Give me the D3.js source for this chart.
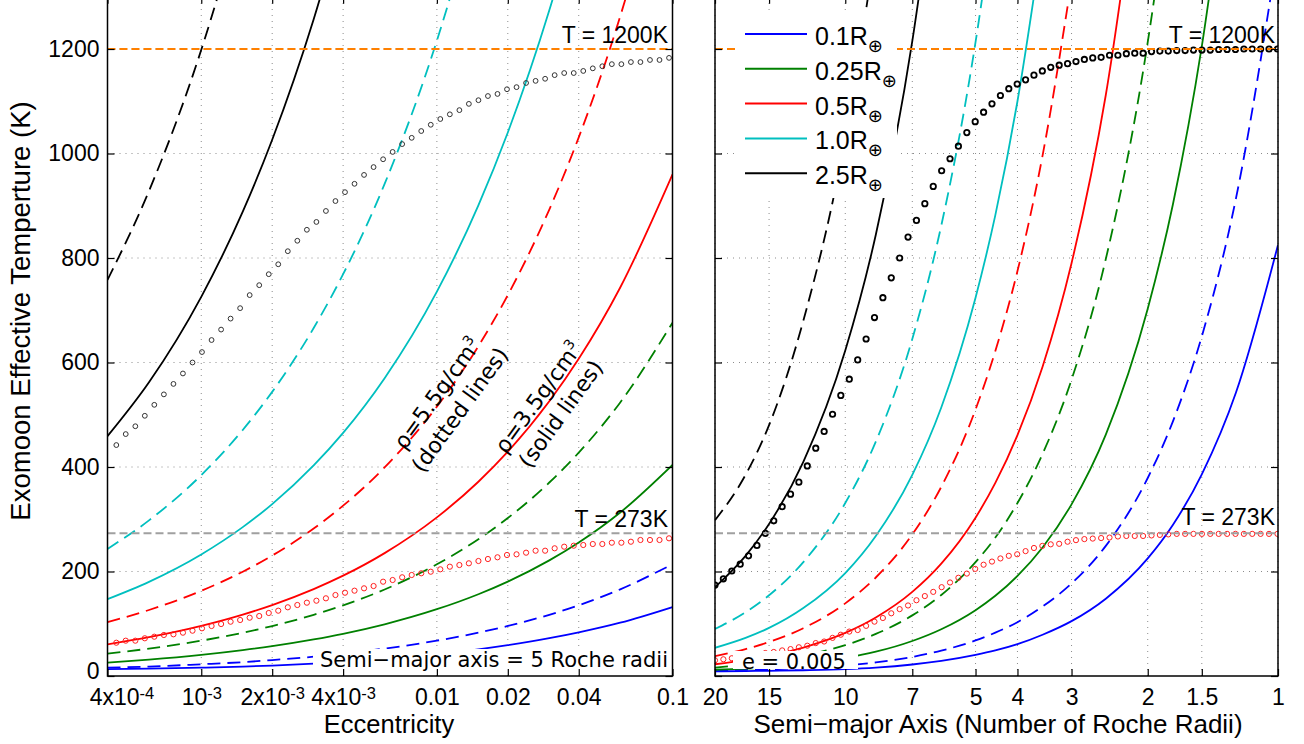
<!DOCTYPE html>
<html>
<head>
<meta charset="utf-8">
<script src="https://cdn.jsdelivr.net/npm/d3@7"></script>
<style>
body { margin: 0; background: #fff; }
svg { display: block; font-family: "Liberation Sans", Arial, sans-serif; }
</style>
</head>
<body>
<div id="chart"></div>
<script>
var width = 1304;
var height = 744;

// left panel: temperature vs eccentricity (a = 5 Roche radii)
var eccGrid = [4e-4, 6e-4, 1e-3, 1.5e-3, 2e-3, 3e-3, 4e-3, 6e-3, 0.01, 0.015, 0.02, 0.03, 0.04, 0.06, 0.1];
var blueSolidL = [13, 14, 16, 18, 20, 23.5, 26.5, 32.5, 41.7, 51, 59, 72.3, 83.5, 102, 132];
var blueDashedL = [16, 18, 22.5, 26.5, 30.5, 37, 43, 52.4, 67.7, 82.9, 95.7, 117.2, 135.3, 165.8, 214];
var greenSolidL = [25.6, 31.3, 40.4, 49.5, 57.1, 70, 80.8, 99, 127.8, 156.5, 180.7, 221.3, 255.5, 312.9, 404];
var greenDashedL = [42.8, 52.4, 67.6, 82.8, 95.6, 117.1, 135.2, 165.6, 213.8, 261.8, 302.3, 370.3, 427.5, 523.6, 676];
var redSolidL = [60.7, 74.4, 96, 117.6, 135.8, 166.3, 192, 235.2, 303.6, 371.8, 429.3, 525.8, 607.2, 743.6, 960];
var redDashedL = [103.1, 126.3, 163, 199.6, 230.5, 282.3, 326, 399.3, 515.5, 631.3, 729, 892.8, 1030.9, 1262.6, 1630];
var cyanSolidL = [147.1, 180.2, 232.6, 284.9, 328.9, 402.9, 465.2, 569.8, 735.5, 900.9, 1040.2, 1274, 1471.1];
var cyanDashedL = [243.2, 297.8, 384.5, 470.9, 543.8, 666, 769, 941.8, 1215.9, 1489.2];
var blackSolidL = [459, 562.1, 725.7, 888.8, 1026.3, 1257, 1451.4];
var blackDashedL = [758, 928.3, 1198.4, 1467.7];

var eccCircles = [4.36e-4, 4.78e-4, 5.25e-4, 5.76e-4, 6.32e-4, 6.94e-4, 7.62e-4, 8.36e-4, 9.18e-4, 1.007e-3,
  1.106e-3, 1.214e-3, 1.332e-3, 1.462e-3, 1.605e-3, 1.762e-3, 1.934e-3, 2.122e-3, 2.330e-3, 2.557e-3,
  2.807e-3, 3.081e-3, 3.381e-3, 3.711e-3, 4.074e-3, 4.471e-3, 4.908e-3, 5.387e-3, 5.913e-3, 6.490e-3,
  7.123e-3, 7.819e-3, 8.582e-3, 9.420e-3, 0.01034, 0.01135, 0.01246, 0.01367, 0.01501, 0.01647,
  0.01808, 0.01984, 0.02178, 0.02391, 0.02624, 0.02880, 0.03161, 0.03470, 0.03809, 0.04181,
  0.04589, 0.05037, 0.05528, 0.06068, 0.06660, 0.07310, 0.08024, 0.08807, 0.09667];
var blackCirclesL = [442, 463, 478, 498, 519, 539, 559, 579, 600, 620,
  643, 663, 684, 704, 729, 748, 769, 788, 813, 833,
  854, 869, 890, 909, 926, 942, 959, 974, 989, 1003,
  1018, 1030, 1043, 1055, 1066, 1075, 1083, 1095, 1102, 1110,
  1114, 1123, 1127, 1135, 1139, 1143, 1150, 1154, 1154, 1158,
  1163, 1167, 1171, 1171, 1175, 1175, 1179, 1179, 1183];
var redCirclesL = [63.7, 67.6, 67.6, 72.2, 75.2, 78.5, 79.8, 82.9, 86.7, 91.3,
  95.7, 99.5, 103.9, 107.2, 111.6, 114.8, 120.6, 125, 131.5, 135.9,
  140.3, 144.1, 148.7, 155, 159.4, 163.3, 167.8, 172.2, 180.5, 183.7,
  188.9, 193.3, 196.6, 199.6, 204.2, 209.2, 212.4, 215.7, 220.1, 223.9,
  227.2, 231.6, 232.9, 236, 239.8, 239.8, 244.4, 247.5, 249.4, 250.7,
  252.6, 252.6, 255.1, 255.1, 257, 260.3, 260.3, 260.3, 263.5];

// right panel: temperature vs semi-major axis (e = 0.005)
var aGrid = [20, 17, 15, 12.5, 10, 8.5, 7, 6, 5, 4.5, 4, 3.5, 3, 2.5, 2, 1.75, 1.5, 1.25, 1];
var blueSolidR = [9, 9.5, 10, 11, 13, 16, 22, 29, 40.5, 49, 61, 79, 105, 148, 225, 289, 386, 543, 825];
var blueDashedR = [11, 12, 13, 15, 20, 26, 36.5, 48.5, 68, 83, 103, 133, 177, 249, 379, 487, 650, 915, 1390];
var greenSolidR = [12, 14, 17, 23, 34.5, 46.5, 67, 89.5, 126, 153.5, 191.5, 246, 328.5, 462, 703, 902, 1205, 1696];
var greenDashedR = [16, 22, 28, 39, 59, 80.5, 116, 155, 218, 265, 331, 425, 567, 798, 1213, 1558];
var redSolidR = [22.5, 30.5, 38.5, 54.5, 82.5, 112, 161, 215, 303, 369.5, 461, 592, 790, 1112, 1690];
var redDashedR = [38, 51.5, 65, 91.5, 139, 188.5, 271, 362, 510, 622, 775, 996, 1330];
var cyanSolidR = [54, 73, 92, 130, 197, 268, 385, 514, 724, 882, 1100, 1413];
var cyanDashedR = [90, 122, 154.5, 218, 331, 448.5, 645, 862, 1213, 1478];
var blackSolidR = [170, 230, 291, 410, 623, 844.5, 1215, 1622];
var blackDashedR = [298, 385, 480, 680, 1030, 1400];

var rocheCircles = [20, 19.13, 18.29, 17.49, 16.73, 16.00, 15.30, 14.63, 13.99, 13.38,
  12.80, 12.24, 11.70, 11.19, 10.70, 10.24, 9.788, 9.360, 8.951, 8.560,
  8.186, 7.829, 7.487, 7.160, 6.847, 6.548, 6.262, 5.988, 5.727, 5.477,
  5.237, 5.009, 4.790, 4.581, 4.380, 4.189, 4.006, 3.831, 3.664, 3.504,
  3.351, 3.204, 3.064, 2.930, 2.802, 2.680, 2.563, 2.451, 2.344, 2.241,
  2.143, 2.050, 1.960, 1.875, 1.793, 1.714, 1.639, 1.568, 1.499, 1.434,
  1.371, 1.311, 1.254, 1.199, 1.147, 1.097, 1.049, 1.003];
var blackCirclesR = [174, 186, 201, 214, 230, 250, 273, 297, 324, 348,
  371, 402, 436, 468, 501, 537, 568, 605, 645, 686,
  724, 762, 800, 840, 872, 904, 937, 967, 990, 1014,
  1040, 1061, 1079, 1095, 1111, 1124, 1133, 1141, 1150, 1158,
  1165, 1169, 1172, 1176, 1180, 1183, 1184, 1188, 1188, 1191,
  1192, 1192, 1195, 1196, 1196, 1197, 1197, 1198, 1198, 1198,
  1199, 1199, 1199, 1200, 1200, 1200, 1200, 1200];
var redCirclesR = [30, 32, 34, 36, 38.5, 41, 44, 46, 49, 51.5,
  55, 58, 63, 66, 73, 79, 85, 88, 96, 104,
  111, 120, 128, 135, 145, 153, 161, 170, 179, 188,
  196, 205, 213, 219, 225, 230, 233, 239, 245, 249,
  252, 253, 257, 260, 262, 263, 264, 265, 267, 268,
  268, 268, 269, 270, 271, 272, 272, 272, 272, 272,
  272, 272, 272, 272, 272, 272, 272, 272];

var yTicks = [0, 200, 400, 600, 800, 1000, 1200];
var eccTicks = [4e-4, 1e-3, 2e-3, 4e-3, 0.01, 0.02, 0.04, 0.1];
var eccTickLabels = [["4x10", "-4"], ["10", "-3"], ["2x10", "-3"], ["4x10", "-3"], ["0.01"], ["0.02"], ["0.04"], ["0.1"]];
var rocheTicks = [20, 15, 10, 7, 5, 4, 3, 2, 1.5, 1];
var refTemps = [1200, 273];
var refLabels = ["T = 1200K", "T = 273K"];
var legendLabels = ["0.1R", "0.25R", "0.5R", "1.0R", "2.5R"];

var colors = ["#0000ff", "#008000", "#ff0000", "#00bfbf", "#000000"];
var refColors = ["#ff8000", "#a0a0a0"];

var svg = d3.select("#chart")
  .append("svg")
  .attr("width", width)
  .attr("height", height);

var y = d3.scaleLinear().domain([0, 1300]).range([676, -3.25]);
var xL = d3.scaleLog().domain([4e-4, 0.1]).range([107.5, 672.5]);
var xR = d3.scaleLog().domain([20, 1]).range([715, 1278]);

var seriesL = [
  [blueSolidL, 0, false], [blueDashedL, 0, true],
  [greenSolidL, 1, false], [greenDashedL, 1, true],
  [redSolidL, 2, false], [redDashedL, 2, true],
  [cyanSolidL, 3, false], [cyanDashedL, 3, true],
  [blackSolidL, 4, false], [blackDashedL, 4, true]
];
var seriesR = [
  [blueSolidR, 0, false], [blueDashedR, 0, true],
  [greenSolidR, 1, false], [greenDashedR, 1, true],
  [redSolidR, 2, false], [redDashedR, 2, true],
  [cyanSolidR, 3, false], [cyanDashedR, 3, true],
  [blackSolidR, 4, false], [blackDashedR, 4, true]
];

function panel(id, x, xGrid, series, circles, tickVals) {
  var r = x.range();
  var g = svg.append("g");

  svg.append("clipPath").attr("id", id)
    .append("rect")
    .attr("x", r[0]).attr("y", -10)
    .attr("width", r[1] - r[0]).attr("height", y(0) + 10);

  // dotted grid
  g.append("g").selectAll("line")
    .data(tickVals)
    .enter().append("line")
    .attr("x1", d => x(d)).attr("x2", d => x(d))
    .attr("y1", y(0)).attr("y2", -4)
    .attr("stroke", "#8c8c8c").attr("stroke-width", 1)
    .attr("stroke-dasharray", "1,5");
  g.append("g").selectAll("line")
    .data(yTicks.slice(1))
    .enter().append("line")
    .attr("x1", r[0]).attr("x2", r[1])
    .attr("y1", d => y(d)).attr("y2", d => y(d))
    .attr("stroke", "#8c8c8c").attr("stroke-width", 1)
    .attr("stroke-dasharray", "1,5");

  var plot = g.append("g").attr("clip-path", "url(#" + id + ")");

  var line = d3.line()
    .x(d => x(d[0]))
    .y(d => y(d[1]))
    .curve(d3.curveMonotoneX);

  plot.selectAll("path.curve")
    .data(series)
    .enter().append("path")
    .attr("class", "curve")
    .attr("d", s => line(s[0].map((v, i) => [xGrid[i], v])))
    .attr("fill", "none")
    .attr("stroke", s => colors[s[1]])
    .attr("stroke-width", 1.8)
    .attr("stroke-dasharray", s => s[2] ? "13,7" : null);

  circles.forEach(c => {
    plot.append("g").selectAll("circle")
      .data(c.values)
      .enter().append("circle")
      .attr("cx", (d, i) => x(c.grid[i]))
      .attr("cy", d => y(d))
      .attr("r", c.r)
      .attr("fill", "none")
      .attr("stroke", c.color)
      .attr("stroke-width", c.sw);
  });

  plot.selectAll("line.ref")
    .data(refTemps)
    .enter().append("line")
    .attr("class", "ref")
    .attr("x1", r[0]).attr("x2", r[1])
    .attr("y1", d => y(d)).attr("y2", d => y(d))
    .attr("stroke", (d, i) => refColors[i])
    .attr("stroke-width", 2)
    .attr("stroke-dasharray", "8,4");

  return g;
}

var left = panel("clipL", xL, eccGrid, seriesL, [
  {grid: eccCircles, values: blackCirclesL, color: "#333", r: 2.4, sw: 1},
  {grid: eccCircles, values: redCirclesL, color: "#ff2020", r: 2.6, sw: 1}
], eccTicks);

var right = panel("clipR", xR, aGrid, seriesR, [
  {grid: rocheCircles, values: redCirclesR, color: "#ff2020", r: 2.6, sw: 1},
  {grid: rocheCircles, values: blackCirclesR, color: "#000", r: 2.7, sw: 1.8}
], rocheTicks);

// reference labels
[[left, 668, [43, 527]], [right, 1275, [43, 525]]].forEach(p => {
  p[0].selectAll("text.ref")
    .data(refLabels)
    .enter().append("text")
    .attr("class", "ref")
    .attr("x", p[1])
    .attr("y", (d, i) => p[2][i])
    .attr("text-anchor", "end")
    .attr("font-size", 23)
    .text(d => d);
});

// density annotations
var notes = [
  {cx: 449, cy: 402, l1: "\u03c1=5.5g/cm", l2: "(dotted lines)"},
  {cx: 550, cy: 406, l1: "\u03c1=3.5g/cm", l2: "(solid lines)"}
];
notes.forEach(n => {
  var t = left.append("g")
    .attr("transform", "translate(" + n.cx + "," + n.cy + ") rotate(-54)")
    .style("font-family", "'DejaVu Sans', sans-serif")
    .attr("font-size", 22)
    .attr("text-anchor", "middle");
  var t1 = t.append("text").attr("y", -7);
  t1.append("tspan").text(n.l1);
  t1.append("tspan").attr("font-size", 14).attr("dy", -9).text("3");
  t.append("text").attr("y", 21).text(n.l2);
});

// boxed labels
left.append("rect")
  .attr("x", 313).attr("y", 649).attr("width", 358).attr("height", 26)
  .attr("fill", "#fff");
left.append("text")
  .attr("x", 668).attr("y", 667)
  .attr("text-anchor", "end")
  .style("font-family", "'DejaVu Sans', sans-serif")
  .attr("font-size", 21)
  .text("Semi\u2212major axis = 5 Roche radii");

right.append("rect")
  .attr("x", 733).attr("y", 651).attr("width", 125).attr("height", 18)
  .attr("fill", "#fff");
right.append("text")
  .attr("x", 742).attr("y", 669)
  .style("font-family", "'DejaVu Sans', sans-serif")
  .attr("font-size", 21)
  .text("e = 0.005");

// legend
var legend = right.append("g");
legend.append("rect")
  .attr("x", 735).attr("y", 10).attr("width", 162).attr("height", 188)
  .attr("fill", "#fff");
var items = legend.selectAll("g.item")
  .data(legendLabels)
  .enter().append("g")
  .attr("class", "item")
  .attr("transform", (d, i) => "translate(0," + (34 + i * 34.8) + ")");
items.append("line")
  .attr("x1", 745).attr("x2", 807)
  .attr("stroke", (d, i) => colors[i])
  .attr("stroke-width", 2);
var lt = items.append("text")
  .attr("x", 815).attr("y", 11)
  .attr("font-size", 25);
lt.append("tspan").text(d => d);
lt.append("tspan")
  .attr("dy", 7)
  .attr("font-size", 18)
  .style("font-family", "'DejaVu Sans', sans-serif")
  .text("\u2295");

// axes and frames
function frame(g, x, tickVals) {
  var r = x.range();
  var top = y.range()[1];
  g.append("rect")
    .attr("x", r[0]).attr("y", top)
    .attr("width", r[1] - r[0]).attr("height", y(0) - top)
    .attr("fill", "none").attr("stroke", "#000").attr("stroke-width", 1.5);

  var bottom = g.append("g")
    .attr("transform", "translate(0," + y(0) + ")")
    .call(d3.axisBottom(x).tickValues(tickVals).tickSizeInner(-7).tickSizeOuter(0).tickPadding(13));
  g.append("g")
    .attr("transform", "translate(0," + top + ")")
    .call(d3.axisTop(x).tickValues(tickVals).tickSizeInner(-7).tickSizeOuter(0).tickFormat(""));
  var leftAx = g.append("g")
    .attr("transform", "translate(" + r[0] + ",0)")
    .call(d3.axisLeft(y).tickValues(yTicks).tickSizeInner(-7).tickSizeOuter(0).tickPadding(8).tickFormat(d3.format("d")));
  g.append("g")
    .attr("transform", "translate(" + r[1] + ",0)")
    .call(d3.axisRight(y).tickValues(yTicks).tickSizeInner(-7).tickSizeOuter(0).tickFormat(""));

  g.selectAll(".domain").remove();
  g.selectAll(".tick line").attr("stroke", "#000").attr("stroke-width", 1.2);
  g.selectAll(".tick text")
    .attr("font-family", "'Liberation Sans', Arial, sans-serif")
    .attr("font-size", 23)
    .attr("fill", "#000");
  return [bottom, leftAx];
}

var axL = frame(left, xL, eccTicks);
var axR = frame(right, xR, rocheTicks);
axR[1].selectAll("text").remove();
axL[1].selectAll(".tick text").filter(d => d === 0).attr("dy", "0.1em");

axL[0].selectAll(".tick text").each(function(d, i) {
  var t = d3.select(this).text("");
  var lab = eccTickLabels[i];
  if (i === 0) t.attr("dx", 14);
  t.append("tspan").text(lab[0]);
  if (lab.length > 1) {
    t.append("tspan").attr("dy", -6.5).attr("font-size", 16.5).text(lab[1]);
  }
});

// axis titles
svg.append("text")
  .attr("x", 389).attr("y", 733)
  .attr("text-anchor", "middle")
  .attr("font-size", 25.5)
  .text("Eccentricity");
svg.append("text")
  .attr("x", 998).attr("y", 733)
  .attr("text-anchor", "middle")
  .attr("font-size", 26)
  .text("Semi\u2212major Axis (Number of Roche Radii)");
svg.append("text")
  .attr("transform", "translate(30,311) rotate(-90)")
  .attr("text-anchor", "middle")
  .attr("font-size", 27.5)
  .text("Exomoon Effective Temperture (K)");
</script>
</body>
</html>
